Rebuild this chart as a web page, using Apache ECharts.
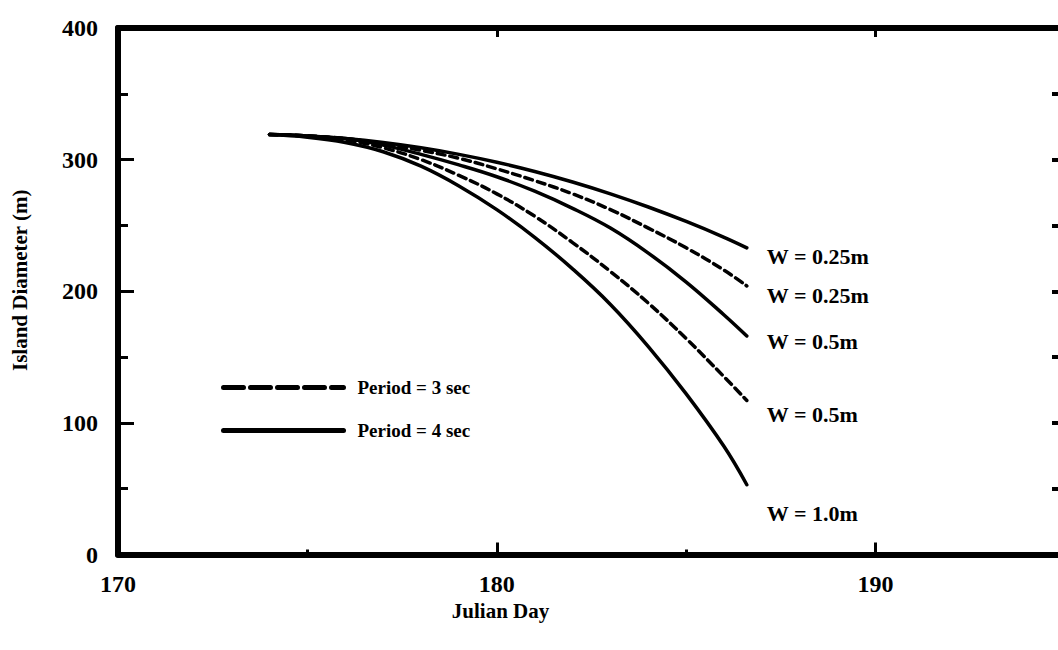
<!DOCTYPE html>
<html>
<head>
<meta charset="utf-8">
<script src="https://cdn.jsdelivr.net/npm/echarts@6/dist/echarts.min.js"></script>
<style>
html,body{margin:0;padding:0;background:#ffffff;}
#chart{width:1058px;height:650px;}
</style>
</head>
<body>
<div id="chart"></div>
<script>
// ---- data ----
const days = [174, 175, 176, 177, 178, 179, 180, 181, 182, 183, 184, 185, 186, 186.6];
const p4_w025 = [319, 318, 316, 313, 309, 304, 298, 291, 283, 274, 264, 253, 241, 233];
const p3_w025 = [319, 318, 316, 312, 307, 301, 293, 284, 274, 262, 248, 233, 216, 204];
const p4_w05  = [319, 318, 316, 311, 304, 296, 287, 276, 263, 248, 229, 207, 182, 166];
const p3_w05  = [319, 318, 315, 309, 300, 288, 274, 257, 237, 215, 191, 164, 135, 117];
const p4_w10  = [319, 317, 313, 306, 295, 280, 262, 241, 217, 190, 158, 122, 82, 53];
const curveLabels = ['W = 0.25m', 'W = 0.25m', 'W = 0.5m', 'W = 0.5m', 'W = 1.0m'];
const periodNames = ['Period = 3 sec', 'Period = 4 sec'];
const xTickLabels = [170, 180, 190];
const yTickLabels = [0, 100, 200, 300, 400];
const xTitle = 'Julian Day';
const yTitle = 'Island Diameter (m)';

// ---- chart ----
const F = '"Liberation Serif", "Times New Roman", serif';
const chart = echarts.init(document.getElementById('chart'), null, {renderer: 'svg'});
function pairs(vals) { return days.map((d, i) => [d, vals[i]]); }

function curve(name, vals, dashed, label, dy) {
  return {
    type: 'line',
    name: name,
    data: pairs(vals),
    xAxisIndex: 0, yAxisIndex: 0,
    symbol: 'none',
    showSymbol: false,
    smooth: 0.4,
    silent: true,
    itemStyle: {color: '#000'},
    lineStyle: {color: '#000', width: 3.5, type: dashed ? [8, 5] : 'solid', cap: 'round'},
    endLabel: {
      show: true,
      formatter: () => label,
      distance: 0,
      offset: [20, dy],
      color: '#000',
      fontFamily: F,
      fontWeight: 'bold',
      fontSize: 22
    },
    z: 3
  };
}

const axisLineStyle = {color: '#000', width: 6};

const option = {
  animation: false,
  backgroundColor: '#ffffff',
  grid: {left: 118, top: 28, right: -7, bottom: 95.5, containLabel: false, outerBoundsMode: 'none'},
  legend: {
    orient: 'vertical',
    left: 216,
    top: 373,
    itemWidth: 120,
    itemHeight: 12,
    itemGap: 24,
    selectedMode: false,
    data: [
      {name: periodNames[0], lineStyle: {type: [20, 7], width: 5, color: '#000'}, itemStyle: {color: 'rgba(0,0,0,0)', borderWidth: 0}},
      {name: periodNames[1], lineStyle: {type: 'solid', width: 5, color: '#000'}, itemStyle: {color: 'rgba(0,0,0,0)', borderWidth: 0}}
    ],
    textStyle: {color: '#000', fontFamily: F, fontWeight: 'bold', fontSize: 19, padding: [0, 0, 0, 9]}
  },
  xAxis: [
    {
      type: 'value', position: 'bottom', min: 170, max: 195, interval: 10,
      name: xTitle, nameLocation: 'middle', nameGap: 44,
      nameTextStyle: {color: '#000', fontFamily: F, fontWeight: 'bold', fontSize: 21, padding: [0, 182, 0, 0]},
      axisLine: {show: true, onZero: false, lineStyle: axisLineStyle},
      axisTick: {show: true, inside: true, length: 12, lineStyle: {color: '#000', width: 3}},
      minorTick: {show: true, splitNumber: 2, length: 5, lineStyle: {color: '#000', width: 3}},
      splitLine: {show: false},
      axisLabel: {
        show: true, margin: 17, color: '#000', fontFamily: F, fontWeight: 'bold', fontSize: 24,
        formatter: v => (xTickLabels.indexOf(v) >= 0 ? String(v) : '')
      }
    },
    {
      type: 'value', position: 'top', min: 170, max: 195, interval: 10,
      axisLine: {show: true, onZero: false, lineStyle: axisLineStyle},
      axisTick: {show: true, inside: true, length: 9, lineStyle: {color: '#000', width: 3}},
      splitLine: {show: false},
      axisLabel: {show: false}
    }
  ],
  yAxis: [
    {
      type: 'value', position: 'left', min: 0, max: 400, interval: 100,
      name: yTitle, nameLocation: 'middle', nameGap: 88,
      nameTextStyle: {color: '#000', fontFamily: F, fontWeight: 'bold', fontSize: 21, padding: [0, 0, 0, 22]},
      axisLine: {show: true, onZero: false, lineStyle: axisLineStyle},
      axisTick: {show: true, inside: true, length: 16, lineStyle: {color: '#000', width: 3}},
      minorTick: {show: true, splitNumber: 2, length: 10, lineStyle: {color: '#000', width: 3}},
      splitLine: {show: false},
      axisLabel: {
        show: true, margin: 20, color: '#000', fontFamily: F, fontWeight: 'bold', fontSize: 24,
        formatter: v => (yTickLabels.indexOf(v) >= 0 ? String(v) : '')
      }
    },
    {
      type: 'value', position: 'right', min: 0, max: 400, interval: 50,
      axisLine: {show: true, onZero: false, lineStyle: axisLineStyle},
      axisTick: {show: true, inside: true, length: 13, lineStyle: {color: '#000', width: 4}},
      splitLine: {show: false},
      axisLabel: {show: false}
    }
  ],
  series: [
    curve(periodNames[0], p3_w025, true, curveLabels[1], 10),
    curve(periodNames[0], p3_w05, true, curveLabels[3], 14),
    curve(periodNames[1], p4_w025, false, curveLabels[0], 9),
    curve(periodNames[1], p4_w05, false, curveLabels[2], 5),
    curve(periodNames[1], p4_w10, false, curveLabels[4], 29)
  ]
};
chart.setOption(option);
</script>
</body>
</html>
